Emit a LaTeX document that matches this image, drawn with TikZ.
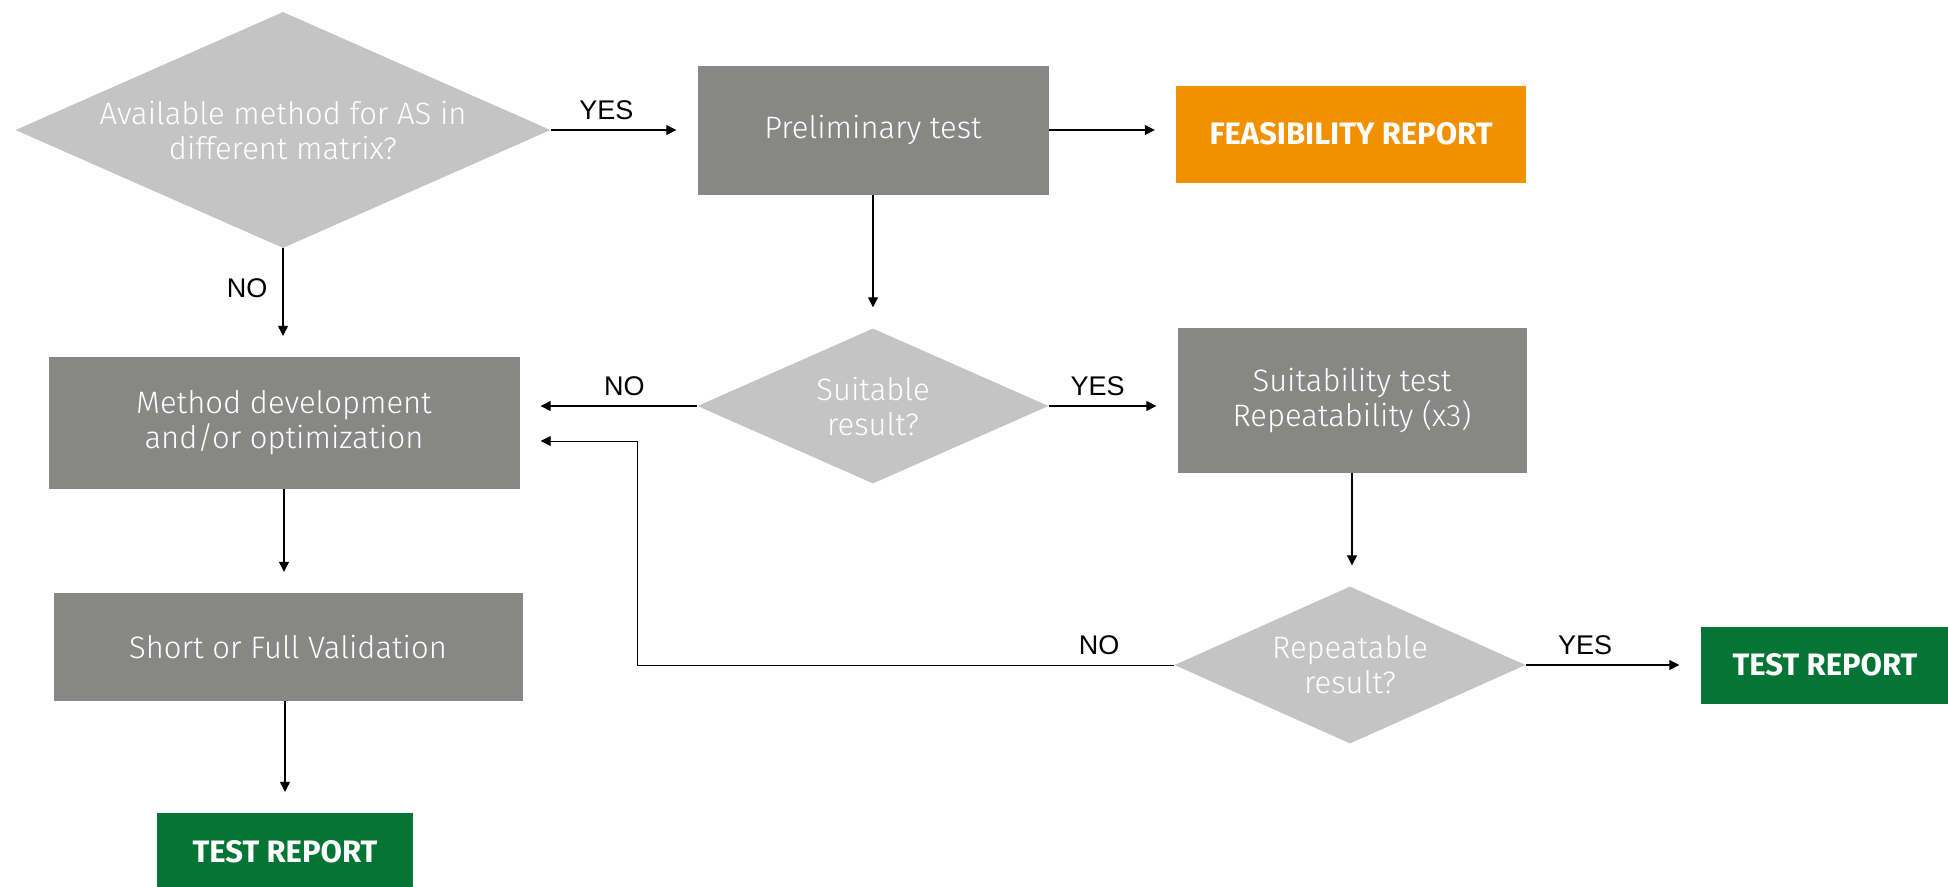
\documentclass[tikz,border=0pt]{standalone}
\usepackage{fontspec}
\setmainfont{Fira Sans}
\newfontfamily\lightfont{Fira Sans Light}
\newfontfamily\labelfont{Liberation Sans}
\usetikzlibrary{shapes.geometric,arrows.meta}

\definecolor{boxgray}{HTML}{878786}
\definecolor{askgray}{HTML}{C4C4C4}
\definecolor{feasorange}{HTML}{F29100}
\definecolor{reportgreen}{HTML}{057535}

\tikzset{
  stepbox/.style={rectangle, fill=boxgray, text=white, align=center, inner sep=0pt,
    font=\lightfont\fontsize{31}{35}\selectfont},
  ask/.style={diamond, fill=askgray, text=white, align=center, inner sep=0pt, aspect=2.2,
    font=\lightfont\fontsize{31}{35}\selectfont},
  report/.style={rectangle, text=white, inner sep=0pt, font=\bfseries\fontsize{31}{36}\selectfont},
  flow/.style={draw=black, line width=1.1pt, -{Triangle[length=10pt,width=10pt]}, shorten >=21pt},
  lbl/.style={font=\labelfont\fontsize{27}{30}\selectfont, inner sep=0pt}
}

\begin{document}
\begin{tikzpicture}[x=1pt, y=-1pt]
  \useasboundingbox (0,0) rectangle (1948,886);

  \node[ask, minimum width=535pt, minimum height=236pt] (qA) at (283,130) {Available method for AS in\\different matrix?};
  \node[stepbox, minimum width=351pt, minimum height=129pt] (prelim) at (873,130) {Preliminary test};
  \node[report, fill=feasorange, minimum width=350pt, minimum height=97pt] (feas) at (1351,134) {FEASIBILITY REPORT};
  \node[ask, minimum width=351pt, minimum height=155pt] (qS) at (873,406) {Suitable\\result?};
  \node[stepbox, minimum width=349pt, minimum height=145pt] (suit) at (1352,400) {Suitability test\\Repeatability (x3)};
  \node[ask, minimum width=351pt, minimum height=157pt] (qR) at (1350,665) {Repeatable\\result?};
  \node[report, fill=reportgreen, minimum width=249pt, minimum height=77pt] (tr2) at (1825,665) {TEST REPORT};
  \node[stepbox, minimum width=471pt, minimum height=132pt] (method) at (284,423) {Method development\\and/or optimization};
  \node[stepbox, minimum width=469pt, minimum height=108pt] (short) at (288,647) {Short or Full Validation};
  \node[report, fill=reportgreen, minimum width=256pt, minimum height=78pt] (tr1) at (285,852) {TEST REPORT};
  \coordinate (bend) at (637,441);

  \draw[flow] (qA.east) -- node[lbl, above=10pt, pos=.38] {YES} (qA.east -| prelim.west);
  \draw[flow] (prelim.east) -- (prelim.east -| feas.west);
  \draw[flow] (prelim) -- (qS);
  \draw[flow] (qS.west) -- node[lbl, above=10pt, pos=.41] {NO} (qS.west -| method.east);
  \draw[flow] (qS.east) -- node[lbl, above=10pt, pos=.38] {YES} (qS.east -| suit.west);
  \draw[flow] (suit.south) -- (suit.south |- qR.north);
  \draw[flow] (qR) -- node[lbl, above=10pt, pos=.34] {YES} (tr2);
  \draw[flow, line width=0.9pt] (qR.west) -- node[lbl, above=10pt, pos=.14] {NO} (bend |- qR.west) -- (bend) -- (method.east |- bend);
  \draw[flow] (qA.south) -- node[lbl, left=15pt, pos=.37] {NO} (qA.south |- method.north);
  \draw[flow] (method.south) -- (method.south |- short.north);
  \draw[flow] (tr1.north |- short.south) -- (tr1.north);
\end{tikzpicture}
\end{document}
